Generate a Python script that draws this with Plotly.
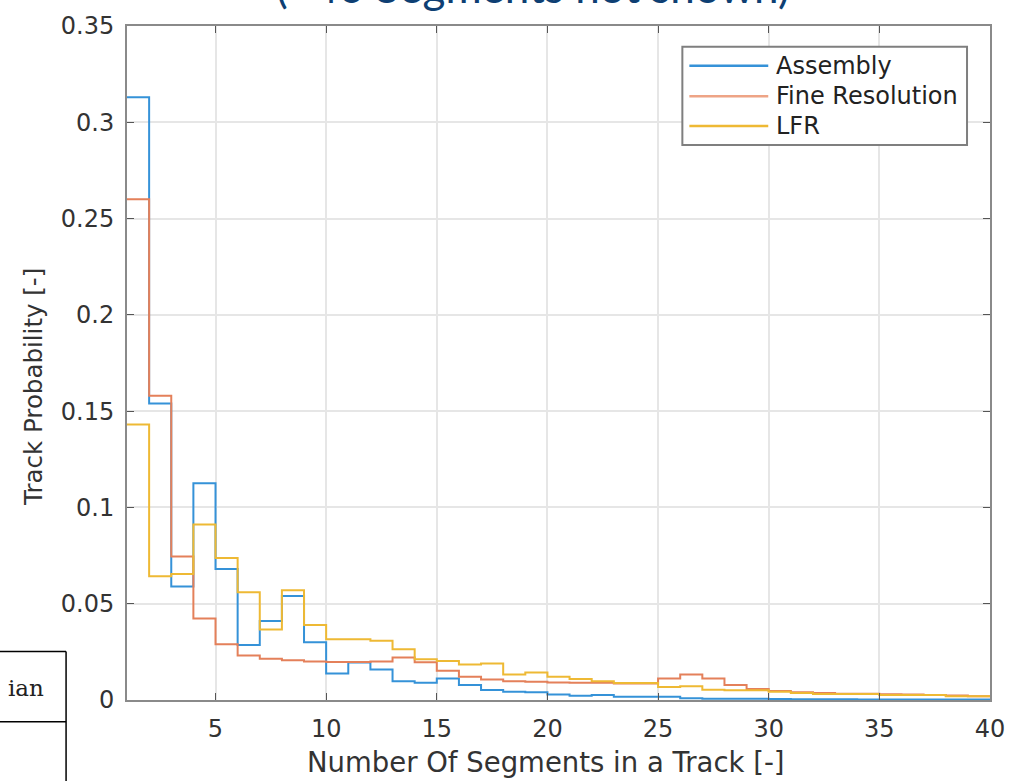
import plotly.graph_objects as go

edges = list(range(1, 41))
assembly = [0.313, 0.154, 0.059, 0.1125, 0.068, 0.0286, 0.041, 0.054, 0.030, 0.0137,
            0.0195, 0.0158, 0.0098, 0.0090, 0.0112, 0.0078, 0.0052, 0.0043, 0.0040, 0.0029,
            0.0022, 0.0026, 0.0017, 0.0017, 0.0017, 0.0009, 0.0007, 0.0006, 0.0006, 0.0005,
            0.0004, 0.0004, 0.0004, 0.0003, 0.0003, 0.0003, 0.0002, 0.0002, 0.0002]
fine_res = [0.260, 0.158, 0.0745, 0.0423, 0.0289, 0.0231, 0.0214, 0.0206, 0.0200, 0.0197,
            0.0197, 0.0200, 0.0221, 0.0196, 0.0152, 0.0121, 0.0107, 0.0098, 0.0095, 0.0091,
            0.0090, 0.0090, 0.0086, 0.0086, 0.0112, 0.0133, 0.0112, 0.0078, 0.0057, 0.0047,
            0.0040, 0.0036, 0.0033, 0.0033, 0.0030, 0.0028, 0.0026, 0.0023, 0.0020]
lfr = [0.143, 0.0642, 0.0654, 0.0911, 0.0738, 0.056, 0.0366, 0.057, 0.0389, 0.0315,
       0.0315, 0.0308, 0.0264, 0.0211, 0.0202, 0.0184, 0.0190, 0.0133, 0.0143, 0.0121,
       0.0109, 0.0098, 0.0088, 0.0088, 0.0067, 0.0071, 0.0053, 0.0050, 0.0050, 0.0043,
       0.0036, 0.0031, 0.0031, 0.0031, 0.0026, 0.0026, 0.0026, 0.0019, 0.0019]

names = ["Assembly", "Fine Resolution", "LFR"]
colors = ["#3592d8", "#e4805a", "#eeb934"]
legend_colors = ["#3592d8", "#eea486", "#eeb934"]
series = list(zip(names, [assembly, fine_res, lfr], colors))

x_ticks = [5, 10, 15, 20, 25, 30, 35, 40]
y_ticks = [0, 0.05, 0.1, 0.15, 0.2, 0.25, 0.3, 0.35]
y_labels = ["0", "0.05", "0.1", "0.15", "0.2", "0.25", "0.3", "0.35"]

title_text = "(>40 Segments not shown)"
x_title = "Number Of Segments in a Track [-]"
y_title = "Track Probability [-]"

W, H = 1017, 781
L, R, T, B = 127, 26, 20, 81
pw, ph = W - L - R, H - T - B


def px(x):
    return (x - L) / pw


def py(y):
    return (H - B - y) / ph


fig = go.Figure()
for name, vals, col in series:
    fig.add_trace(go.Scatter(x=edges, y=list(vals) + [vals[-1]], mode="lines",
                             line=dict(shape="hv", color=col, width=2), name=name,
                             showlegend=False))

font = "DejaVu Sans"
txt = "#333333"
axis_common = dict(showline=True, linecolor="#8a8a8a", linewidth=2, mirror="ticks",
                   ticks="inside", ticklen=7, tickcolor="#555555", showgrid=True,
                   gridcolor="#e6e6e6", gridwidth=1.5, zeroline=False,
                   tickfont=dict(family=font, size=24, color=txt))
fig.update_xaxes(range=[1, 40], tickvals=x_ticks, ticktext=[str(v) for v in x_ticks],
                 ticklabelstandoff=6, **axis_common)
fig.update_yaxes(range=[0, 0.35], tickvals=y_ticks, ticktext=y_labels,
                 ticklabelstandoff=6, **axis_common)

fig.update_layout(width=W, height=H, margin=dict(l=L, r=R, t=T, b=B),
                  plot_bgcolor="white", paper_bgcolor="white", showlegend=False)

# axis titles
fig.add_annotation(text=x_title, xref="paper", yref="paper", x=px(305), y=py(763),
                   xanchor="left", yanchor="middle", showarrow=False,
                   font=dict(family=font, size=27.5, color=txt))
fig.add_annotation(text=y_title, xref="paper", yref="paper", x=px(34), y=py(384),
                   xanchor="center", yanchor="middle", textangle=-90, showarrow=False,
                   font=dict(family=font, size=24.5, color=txt))

# legend box
lx0, lx1, ly0, ly1 = 683, 968, 41, 140
fig.add_shape(type="rect", xref="paper", yref="paper", x0=px(lx0), x1=px(lx1),
              y0=py(ly1), y1=py(ly0), fillcolor="white",
              line=dict(color="#7f7f7f", width=2), layer="above")
row_y = [60, 91, 121]
for name, col, ry in zip(names, legend_colors, row_y):
    fig.add_shape(type="line", xref="paper", yref="paper", x0=px(690), x1=px(769),
                  y0=py(ry), y1=py(ry), line=dict(color=col, width=2.5), layer="above")
    fig.add_annotation(text=name, xref="paper", yref="paper", x=px(775), y=py(ry),
                       xanchor="left", yanchor="middle", showarrow=False,
                       font=dict(family=font, size=24, color="#222222"))

# partially visible title above the plot
fig.add_annotation(text=title_text, xref="paper", yref="paper",
                   x=px(533), y=py(8), xanchor="center", yanchor="bottom",
                   showarrow=False, font=dict(family="Lato", size=44, color="#0e3f73"))

# fragment of neighbouring table at bottom left
for (x0, y0, x1, y1) in [(-10, 651, 66, 651), (-10, 722, 66, 722), (66, 651, 66, 790)]:
    fig.add_shape(type="line", xref="paper", yref="paper", x0=px(x0), x1=px(x1),
                  y0=py(y0), y1=py(y1), line=dict(color="black", width=1.5))
fig.add_annotation(text="ian", xref="paper", yref="paper", x=px(46), y=py(688),
                   xanchor="right", yanchor="middle", showarrow=False,
                   font=dict(family="DejaVu Serif", size=23, color="#222222"))

fig.write_html("out.html", config={"displayModeBar": False},
               post_script="document.body.style.margin='0';")
